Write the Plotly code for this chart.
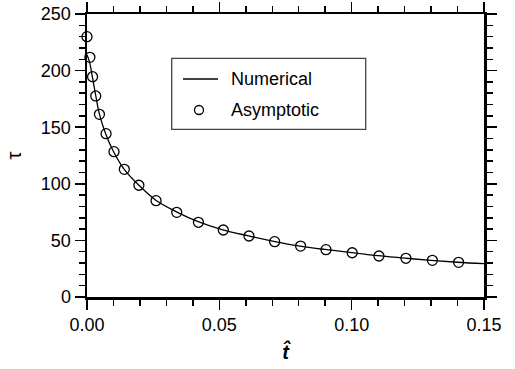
import plotly.graph_objects as go

# Numerical solution (line)
t_num = [0.0, 0.001, 0.002, 0.0033, 0.0047, 0.007, 0.010, 0.014, 0.0195, 0.026,
         0.034, 0.042, 0.051, 0.061, 0.071, 0.080, 0.090, 0.100, 0.110, 0.120,
         0.130, 0.140, 0.150]
tau_num = [214, 207, 195, 178, 161.5, 144.5, 128.5, 113, 99, 85.5,
           75, 66.5, 59.5, 54, 49, 45.2, 42, 39.2, 36.5, 34.3,
           32.4, 30.7, 29.4]

# Asymptotic solution (circles)
t_asy = [0.0, 0.0011, 0.0021, 0.0033, 0.0047, 0.0072, 0.0102, 0.0141, 0.0196,
         0.0261, 0.0339, 0.0421, 0.0515, 0.0612, 0.0709, 0.0807, 0.0903,
         0.1002, 0.1103, 0.1205, 0.1305, 0.1404]
tau_asy = [230, 211.7, 194.6, 177.6, 161.4, 144.3, 128.4, 112.8, 98.7,
           85.1, 74.8, 66.0, 59.2, 53.9, 48.9, 45.0, 41.8,
           39.1, 36.2, 34.2, 32.4, 30.6]

x_ticks = [0.0, 0.05, 0.10, 0.15]
x_ticklabels = ["0.00", "0.05", "0.10", "0.15"]
y_ticks = [0, 50, 100, 150, 200, 250]

FONT = "Liberation Sans, Arial, Helvetica, sans-serif"

fig = go.Figure()
fig.add_trace(go.Scatter(x=t_num, y=tau_num, mode="lines", name="Numerical",
                         line=dict(color="black", width=1.3, shape="spline"),
                         showlegend=False, cliponaxis=False))
fig.add_trace(go.Scatter(x=t_asy, y=tau_asy, mode="markers", name="Asymptotic",
                         marker=dict(symbol="circle-open", size=10,
                                     color="black", line=dict(width=1.3)),
                         showlegend=False, cliponaxis=False))

axis_common = dict(showline=True, linecolor="black", linewidth=2.5,
                   ticks="outside", ticklen=10, tickwidth=1.5, tickcolor="black",
                   mirror="allticks", showgrid=False, zeroline=False,
                   automargin=False, ticklabeloverflow="allow",
                   tickfont=dict(family=FONT, size=18, color="black"))

fig.update_xaxes(range=[0, 0.15], tickvals=x_ticks, ticktext=x_ticklabels,
                 minor=dict(dtick=0.01, ticklen=6, tickwidth=1.5,
                            tickcolor="black", ticks="outside", showgrid=False),
                 title=dict(text="<b><i>t\u0302</i></b>", standoff=11,
                            font=dict(family=FONT, size=20, color="black")),
                 **axis_common)
fig.update_yaxes(range=[0, 250], tickvals=y_ticks,
                 minor=dict(dtick=10, ticklen=6, tickwidth=1.5,
                            tickcolor="black", ticks="outside", showgrid=False),
                 title=dict(text="\u03c4", standoff=14,
                            font=dict(family=FONT, size=20, color="black")),
                 **axis_common)

# Manual legend
fig.add_shape(type="rect", xref="paper", yref="paper",
              x0=0.2134, x1=0.702, y0=0.5926, y1=0.8435,
              line=dict(color="#444", width=1.3), fillcolor="white", layer="above")
fig.add_shape(type="line", xref="paper", yref="paper",
              x0=0.2418, x1=0.33, y0=0.7703, y1=0.7703,
              line=dict(color="black", width=1.3), layer="above")
fig.add_shape(type="circle", xref="paper", yref="paper",
              xsizemode="pixel", ysizemode="pixel",
              xanchor=0.2821, yanchor=0.6608, x0=-4.5, x1=4.5, y0=-4.5, y1=4.5,
              line=dict(color="black", width=1.3), layer="above")
fig.add_annotation(xref="paper", yref="paper", x=0.3577, y=0.7703,
                   text="Numerical", showarrow=False, xanchor="left", yanchor="middle",
                   font=dict(family=FONT, size=18, color="black"))
fig.add_annotation(xref="paper", yref="paper", x=0.3577, y=0.6608,
                   text="Asymptotic", showarrow=False, xanchor="left", yanchor="middle",
                   font=dict(family=FONT, size=18, color="black"))

fig.update_layout(width=515, height=369,
                  margin=dict(l=87, r=31, t=14, b=72),
                  paper_bgcolor="white", plot_bgcolor="white",
                  showlegend=False)

fig.write_html("out.html",
               config={"displayModeBar": False, "staticPlot": True},
               post_script="document.body.style.margin='0';document.body.style.overflow='hidden';")
